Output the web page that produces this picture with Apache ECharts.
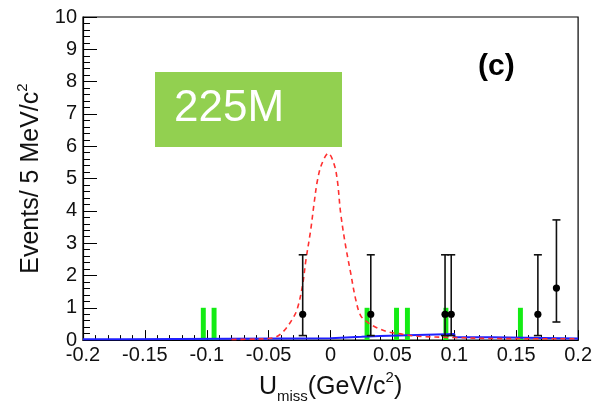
<!DOCTYPE html>
<html>
<head>
<meta charset="utf-8">
<script src="https://cdn.jsdelivr.net/npm/echarts@6/dist/echarts.min.js"></script>
<style>
html,body{margin:0;padding:0;background:#fff;}
#c{width:595px;height:409px;}
</style>
</head>
<body>
<div id="c"></div>
<script>
// ---- data ----
const xTickLabels = ['-0.2','-0.15','-0.1','-0.05','0','0.05','0.1','0.15','0.2'];
const yTickLabels = ['0','1','2','3','4','5','6','7','8','9','10'];

// data points with asymmetric errors
const dataX    = [-0.0225, 0.0325, 0.0925, 0.0975, 0.1675, 0.1825];
const dataY    = [0.80, 0.80, 0.80, 0.80, 0.80, 1.61];
const dataLow  = [0.14, 0.14, 0.14, 0.14, 0.14, 0.56];
const dataHigh = [2.64, 2.64, 2.64, 2.64, 2.64, 3.72];

// green markers
const greenX = [-0.1028, -0.0941, 0.0295, 0.0533, 0.0621, 0.0932, 0.1534];
const greenY = [1, 1, 1, 1, 1, 1, 1];

// blue background (step)
const blueX = [-0.2, -0.165, 0.0, 0.025, 0.04, 0.10, 0.13, 0.2];
const blueY = [0.03, 0.06, 0.10, 0.13, 0.19, 0.09, 0.05, 0.05];

// red dashed total fit
const redX = [-0.08, -0.06, -0.05, -0.044, -0.04, -0.036, -0.031, -0.027, -0.0226, -0.020, -0.016, -0.0133, -0.0106, -0.0071, -0.0018, 0.0028, 0.0055, 0.0082, 0.0122, 0.0162, 0.0202, 0.0243, 0.030, 0.035, 0.040, 0.047, 0.055, 0.07, 0.10, 0.13, 0.2];
const redY = [0.02, 0.03, 0.05, 0.10, 0.20, 0.36, 0.64, 0.95, 1.70, 2.45, 3.42, 4.23, 4.94, 5.45, 5.78, 5.45, 4.94, 3.92, 2.91, 2.09, 1.28, 0.76, 0.55, 0.43, 0.34, 0.25, 0.20, 0.12, 0.08, 0.05, 0.04];

// ---- styles ----
const FONT = '"Liberation Sans", Arial, Helvetica, sans-serif';
const GREEN_HALF_W = 0.002;
const CAP = 4;

const chart = echarts.init(document.getElementById('c'), null, {renderer: 'canvas'});

const errData = dataX.map((x, i) => [x, dataY[i], dataLow[i], dataHigh[i]]);
const greenData = greenX.map((x, i) => [x, greenY[i]]);
const blueData = blueX.map((x, i) => [x, blueY[i]]);
const redData = redX.map((x, i) => [x, redY[i]]);

const option = {
  animation: false,
  grid: {left: 83, right: 15, top: 17, bottom: 64, show: true, borderColor: '#000', borderWidth: 1.2, backgroundColor: 'transparent'},
  xAxis: {
    type: 'value', min: -0.2, max: 0.2, interval: 0.05,
    axisLine: {show: true, onZero: false, lineStyle: {color: '#000', width: 1.2}},
    axisTick: {show: true, inside: true, length: 10, lineStyle: {color: '#000', width: 1}},
    minorTick: {show: true, splitNumber: 5, length: 5, lineStyle: {color: '#000', width: 1}},
    splitLine: {show: false},
    axisLabel: {
      margin: 5, color: '#111', fontSize: 20, fontFamily: FONT,
      formatter: (v, idx) => xTickLabels[idx] !== undefined ? xTickLabels[idx] : String(v)
    },
    name: '{u|U}{sub|miss}{u|(GeV/c}{sup|2}{u|)}',
    nameLocation: 'middle', nameGap: 26,
    nameTextStyle: {
      rich: {
        u: {fontSize: 25, fontFamily: FONT, color: '#111', lineHeight: 34, verticalAlign: 'middle'},
        sub: {fontSize: 15, fontFamily: FONT, color: '#111', lineHeight: 15, verticalAlign: 'bottom'},
        sup: {fontSize: 15, fontFamily: FONT, color: '#111', lineHeight: 15, verticalAlign: 'top'}
      }
    }
  },
  yAxis: {
    type: 'value', min: 0, max: 10, interval: 1,
    axisLine: {show: true, onZero: false, lineStyle: {color: '#000', width: 1.2}},
    axisTick: {show: true, inside: true, length: 14, lineStyle: {color: '#000', width: 1}},
    minorTick: {show: true, splitNumber: 5, length: 7, lineStyle: {color: '#000', width: 1}},
    splitLine: {show: false},
    axisLabel: {
      margin: 6, color: '#111', fontSize: 20, fontFamily: FONT,
      formatter: (v, idx) => yTickLabels[idx] !== undefined ? yTickLabels[idx] : String(v)
    },
    name: '{t|Events/ 5 MeV/c}{sup|2}',
    nameLocation: 'middle', nameGap: 36, nameRotate: 90,
    nameTextStyle: {
      rich: {
        t: {fontSize: 25, fontFamily: FONT, color: '#111', lineHeight: 32, verticalAlign: 'middle'},
        sup: {fontSize: 15, fontFamily: FONT, color: '#111', lineHeight: 15, verticalAlign: 'top'}
      }
    }
  },
  series: [
    {
      type: 'custom', name: 'green', data: greenData, clip: true, z: 2,
      encode: {x: 0, y: 1},
      renderItem: (params, api) => {
        const x = api.value(0), h = api.value(1);
        const p0 = api.coord([x - GREEN_HALF_W, h]);
        const p1 = api.coord([x + GREEN_HALF_W, 0]);
        return {type: 'rect', shape: {x: p0[0], y: p0[1], width: p1[0] - p0[0], height: p1[1] - p0[1]}, style: {fill: '#14ec14'}};
      }
    },
    {
      type: 'line', name: 'bkg', data: blueData, step: 'end', symbol: 'none', z: 3,
      lineStyle: {color: '#2020ff', width: 2}
    },
    {
      type: 'line', name: 'fit', data: redData, smooth: 0.35, symbol: 'none', z: 4,
      lineStyle: {color: '#ff3030', width: 1.6, type: [5, 4]}
    },
    {
      type: 'custom', name: 'data', data: errData, clip: true, z: 5,
      encode: {x: 0, y: 1},
      renderItem: (params, api) => {
        const x = api.value(0), y = api.value(1), lo = api.value(2), hi = api.value(3);
        const p = api.coord([x, y]);
        const pl = api.coord([x, lo]);
        const ph = api.coord([x, hi]);
        const st = {stroke: '#111', lineWidth: 1.6};
        return {type: 'group', children: [
          {type: 'line', shape: {x1: pl[0], y1: pl[1], x2: ph[0], y2: ph[1]}, style: st},
          {type: 'line', shape: {x1: pl[0] - CAP, y1: pl[1], x2: pl[0] + CAP, y2: pl[1]}, style: st},
          {type: 'line', shape: {x1: ph[0] - CAP, y1: ph[1], x2: ph[0] + CAP, y2: ph[1]}, style: st},
          {type: 'circle', shape: {cx: p[0], cy: p[1], r: 3.6}, style: {fill: '#000'}}
        ]};
      }
    }
  ],
  graphic: [
    {type: 'rect', left: 155, top: 72, shape: {width: 187, height: 75}, style: {fill: '#92d050'}, z: 10},
    {type: 'text', left: 174, top: 87, style: {text: '225M', fill: '#fff', font: '44px ' + FONT}, z: 11},
    {type: 'text', left: 478, top: 52, style: {text: '(c)', fill: '#000', font: 'bold 30px ' + FONT}, z: 11}
  ]
};
chart.setOption(option);
</script>
</body>
</html>
